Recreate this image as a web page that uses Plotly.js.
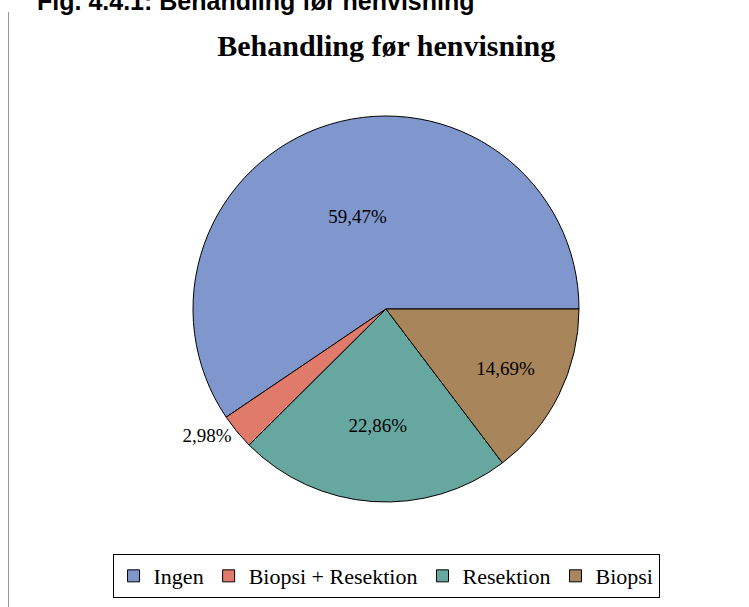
<!DOCTYPE html>
<html>
<head>
<meta charset="utf-8">
<script src="https://cdn.plot.ly/plotly-3.0.1.min.js"></script>
<style>
html,body{margin:0;padding:0;background:#fff;}
#chart{width:749px;height:607px;position:relative;}
#vline{position:absolute;left:8px;top:12px;width:1px;height:595px;background:#999;z-index:10;}
</style>
</head>
<body>
<div id="chart"><div id="vline"></div></div>
<script>
const categories = ["Ingen", "Biopsi + Resektion", "Resektion", "Biopsi"];
const shares = [59.47, 2.98, 22.86, 14.69];
const colors = ["#7F97CD", "#E07B6B", "#66A8A0", "#A8855A"];
const positions = ["inside", "outside", "inside", "inside"];

// first slice should start at 3 o'clock and run counterclockwise
const total = shares.reduce((a, b) => a + b, 0);
const rot = 90 - 360 * shares[0] / total;

const trace = {
  type: "pie",
  labels: categories,
  values: shares,
  sort: false,
  direction: "counterclockwise",
  rotation: rot,
  domain: {x: [193 / 749, 579 / 749], y: [105 / 607, 491 / 607]},
  marker: {colors: colors, line: {color: "#000", width: 1}},
  texttemplate: "%{percent:.2%}",
  textposition: positions,
  insidetextorientation: "horizontal",
  textfont: {family: "Liberation Serif, Times New Roman, serif", size: 19, color: "#000"},
  hoverinfo: "label+percent",
  showlegend: true
};

const layout = {
  width: 749,
  height: 607,
  margin: {l: 0, r: 0, t: 0, b: 0},
  paper_bgcolor: "#fff",
  separators: ", ",
  title: {
    text: "<b>Behandling før henvisning</b>",
    font: {family: "Liberation Serif, Times New Roman, serif", size: 30, color: "#000"},
    x: 0.5157, xanchor: "center", y: 0.925, yanchor: "middle"
  },
  legend: {
    orientation: "h",
    x: 0.5154, xanchor: "center",
    y: 0.051, yanchor: "middle",
    bordercolor: "#000", borderwidth: 1,
    font: {family: "Liberation Serif, Times New Roman, serif", size: 22, color: "#000"},
    traceorder: "normal",
    itemwidth: 30
  },
  annotations: [{
    text: "<b>Fig. 4.4.1: Behandling før henvisning</b>",
    xref: "paper", yref: "paper",
    x: 0.047, xanchor: "left",
    y: 0.9985, yanchor: "middle",
    showarrow: false,
    font: {family: "Liberation Sans, Arial, sans-serif", size: 25, color: "#000"}
  }]
};

Plotly.newPlot("chart", [trace], layout, {displayModeBar: false, staticPlot: true});
</script>
</body>
</html>
